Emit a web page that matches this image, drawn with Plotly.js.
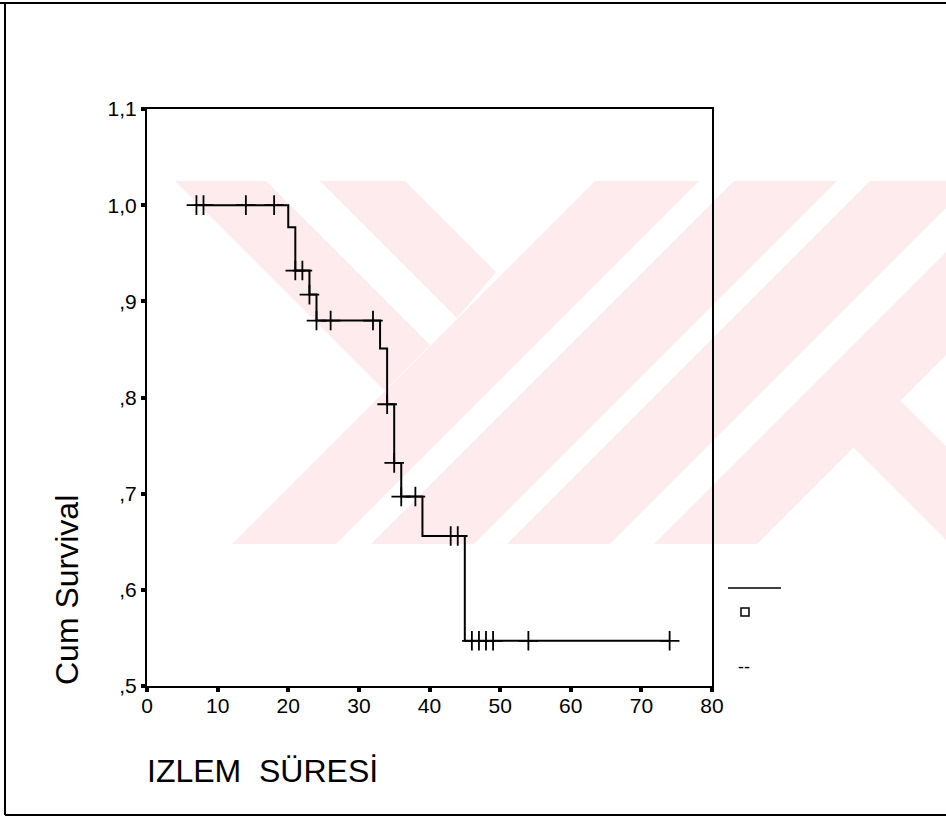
<!DOCTYPE html>
<html>
<head>
<meta charset="utf-8">
<script src="https://cdn.plot.ly/plotly-3.0.1.min.js"></script>
<style>
  html, body { margin: 0; padding: 0; background: #ffffff; }
  #chart { width: 946px; height: 820px; }
</style>
</head>
<body>
<div id="chart"></div>
<script>
// ---- Data ----
const stepTimes     = [7, 20, 21, 23, 24, 33, 34, 35, 36, 39, 45, 74];
const stepSurvival  = [1.000, 0.977, 0.932, 0.907, 0.880, 0.851, 0.793, 0.732, 0.697, 0.656, 0.547, 0.547];
const censorTimes    = [7, 8, 14, 18, 21, 22, 23, 24, 26, 32, 34, 35, 36, 38, 43, 44, 46, 47, 48, 49, 54, 74];
const censorSurvival = [1.000, 1.000, 1.000, 1.000, 0.932, 0.932, 0.907, 0.880, 0.880, 0.880, 0.793, 0.732, 0.697, 0.697, 0.656, 0.656, 0.547, 0.547, 0.547, 0.547, 0.547, 0.547];
const xTickVals = [0, 10, 20, 30, 40, 50, 60, 70, 80];
const yTickVals = [0.5, 0.6, 0.7, 0.8, 0.9, 1.0, 1.1];
const yTickText = [",5", ",6", ",7", ",8", ",9", "1,0", "1,1"];
const xTitle = "IZLEM\u00a0 SÜRESİ";
const yTitle = "Cum Survival";
const legendDash = "--";

// ---- Layout geometry (pixels) ----
const W = 946, H = 820;
const L = 147, R = 712, T = 109, B = 686;
const px = x => (x - L) / (R - L);
const py = y => (B - y) / (B - T);
const FONT = "Liberation Sans, Arial, sans-serif";

// decorative watermark polygons (pixel coordinates of the page)
const wm = [
  [[232,544],[336,544],[699,181],[595,181]],
  [[371,544],[474,544],[837,181],[734,181]],
  [[507,544],[610,544],[973,181],[870,181]],
  [[654,544],[757,544],[1120,181],[1017,181]],
  [[175,181],[266,181],[430,345],[384.5,390.5]],
  [[320,181],[405,181],[496,272],[457,318]],
  [[900,400],[1000,500],[1000,544],[950,544],[853,447]]
];
const shapes = wm.map(poly => ({
  type: 'path', xref: 'paper', yref: 'paper', layer: 'below',
  path: 'M' + poly.map(p => px(p[0]).toFixed(4) + ',' + py(p[1]).toFixed(4)).join('L') + 'Z',
  fillcolor: '#fdebee', line: { width: 0 }
}));

// page frame
shapes.push(
  { type: 'line', xref: 'paper', yref: 'paper', x0: px(0), x1: px(W), y0: py(3), y1: py(3), line: { color: '#000', width: 2 } },
  { type: 'line', xref: 'paper', yref: 'paper', x0: px(5), x1: px(5), y0: py(3), y1: py(815), line: { color: '#000', width: 2 } },
  { type: 'line', xref: 'paper', yref: 'paper', x0: px(5), x1: px(W), y0: py(815), y1: py(815), line: { color: '#000', width: 2 } }
);
// legend symbols (labels empty in the reference)
shapes.push(
  { type: 'line', xref: 'paper', yref: 'paper', x0: px(728), x1: px(781), y0: py(588), y1: py(588), line: { color: '#000', width: 1.5 } },
  { type: 'rect', xref: 'paper', yref: 'paper', x0: px(741), x1: px(749), y0: py(608), y1: py(616), line: { color: '#000', width: 1.5 }, fillcolor: 'rgba(0,0,0,0)' }
);

const traces = [
  {
    type: 'scatter', mode: 'lines', x: stepTimes, y: stepSurvival,
    line: { shape: 'hv', color: '#000', width: 2 }, hoverinfo: 'x+y', showlegend: false
  },
  {
    type: 'scatter', mode: 'markers', x: censorTimes, y: censorSurvival,
    marker: { symbol: 'cross-thin', size: 14, line: { color: '#000', width: 1.8 }, color: '#000' },
    hoverinfo: 'x+y', showlegend: false
  }
];

const layout = {
  width: W, height: H,
  margin: { l: L, r: W - R, t: T, b: H - B, pad: 0 },
  paper_bgcolor: '#ffffff',
  plot_bgcolor: 'rgba(0,0,0,0)',
  font: { family: FONT, color: '#000' },
  showlegend: false,
  xaxis: {
    range: [0, 80], tickvals: xTickVals, ticktext: xTickVals.map(String),
    showgrid: false, zeroline: false, showline: true, linecolor: '#000', linewidth: 2, mirror: true,
    ticks: 'outside', ticklen: 4, tickwidth: 4, tickcolor: '#000',
    tickfont: { family: FONT, size: 21, color: '#000' }, ticklabelstandoff: -4,
    automargin: false, fixedrange: true
  },
  yaxis: {
    range: [0.5, 1.1], tickvals: yTickVals, ticktext: yTickText,
    showgrid: false, zeroline: false, showline: true, linecolor: '#000', linewidth: 2, mirror: true,
    ticks: 'outside', ticklen: 4, tickwidth: 4, tickcolor: '#000',
    tickfont: { family: FONT, size: 21, color: '#000' }, ticklabelstandoff: 0,
    automargin: false, fixedrange: true
  },
  shapes: shapes,
  annotations: [
    { text: xTitle, xref: 'paper', yref: 'paper', x: px(145), y: py(771), xanchor: 'left', yanchor: 'middle',
      showarrow: false, font: { family: FONT, size: 32, color: '#000' } },
    { text: yTitle, xref: 'paper', yref: 'paper', x: px(67), y: py(687), xanchor: 'center', yanchor: 'bottom',
      textangle: -90, showarrow: false, font: { family: FONT, size: 32, color: '#000' } },
    { text: legendDash, xref: 'paper', yref: 'paper', x: px(744), y: py(667), xanchor: 'center', yanchor: 'middle',
      showarrow: false, font: { family: FONT, size: 18, color: '#000' } }
  ]
};

Plotly.newPlot('chart', traces, layout, { staticPlot: true, displayModeBar: false });
</script>
</body>
</html>
